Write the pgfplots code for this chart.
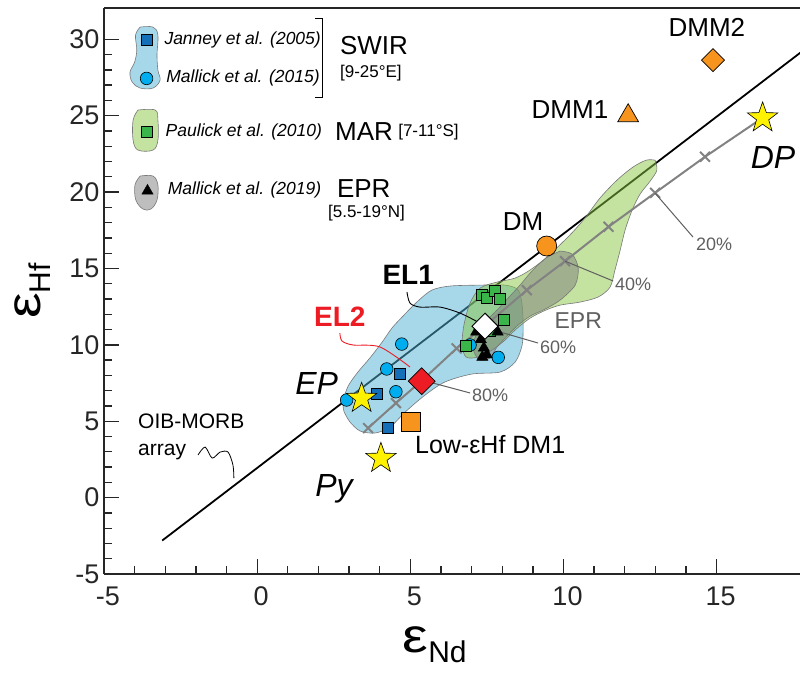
\documentclass[border=0pt]{standalone}
\usepackage{pgfplots}
\pgfplotsset{compat=1.18}
\usepackage{fontspec}
\setmainfont{Liberation Sans}
\newcommand\fs[1]{\fontsize{#1}{#1}\selectfont}
\definecolor{blueF}{RGB}{77,177,213}
\definecolor{greenF}{RGB}{137,197,65}
\definecolor{grayF}{RGB}{125,125,125}
\definecolor{edgeC}{RGB}{120,120,120}
\definecolor{jan}{RGB}{20,110,184}
\definecolor{mal}{RGB}{0,174,239}
\definecolor{pau}{RGB}{57,181,74}
\definecolor{orng}{RGB}{247,148,29}
\definecolor{ylw}{RGB}{255,242,0}
\definecolor{redd}{RGB}{237,28,36}
\definecolor{mixC}{RGB}{130,130,130}
\definecolor{txtG}{RGB}{95,95,95}
\pgfdeclareplotmark{fstar}{%
  \pgfpathmoveto{\pgfpointpolar{90}{\pgfplotmarksize}}%
  \pgfpathlineto{\pgfpointpolar{126}{0.40\pgfplotmarksize}}%
  \pgfpathlineto{\pgfpointpolar{162}{\pgfplotmarksize}}%
  \pgfpathlineto{\pgfpointpolar{198}{0.40\pgfplotmarksize}}%
  \pgfpathlineto{\pgfpointpolar{234}{\pgfplotmarksize}}%
  \pgfpathlineto{\pgfpointpolar{270}{0.40\pgfplotmarksize}}%
  \pgfpathlineto{\pgfpointpolar{306}{\pgfplotmarksize}}%
  \pgfpathlineto{\pgfpointpolar{342}{0.40\pgfplotmarksize}}%
  \pgfpathlineto{\pgfpointpolar{18}{\pgfplotmarksize}}%
  \pgfpathlineto{\pgfpointpolar{54}{0.40\pgfplotmarksize}}%
  \pgfpathclose
  \pgfusepathqfillstroke}
\begin{document}
\begin{tikzpicture}
\useasboundingbox (-104pt,-101pt) rectangle (696pt,574pt);
\begin{axis}[
  at={(0pt,0pt)}, anchor=south west,
  width=696pt, height=566pt, scale only axis,
  xmin=-5, xmax=17.72, ymin=-5, ymax=32.05,
  clip mode=individual,
  axis x line=box, axis y line=left,
  axis line style={-, line width=1.8pt, black!85},
  xtick pos=left, ytick pos=left,
  xtick={-5,0,5,10,15}, xticklabels={-5,0,5,10,15},
  ytick={-5,0,5,10,15,20,25,30}, yticklabels={-5,0,5,10,15,20,25,30},
  minor x tick num=4, minor y tick num=4,
  tick align=inside,
  major tick length=15pt, minor tick length=8pt,
  every tick/.style={black!85, line width=1.3pt},
  tick label style={font=\fs{27}, text=black!85},
  xticklabel style={yshift=-9pt, xshift=4pt},
  yticklabel style={xshift=-1pt},
]
% ---------- OIB-MORB array ----------
\addplot[black, line width=1.8pt] coordinates {(-3.1,-2.81)(17.8,29.23)};
% ---------- fields ----------
\addplot[draw=edgeC, line width=0.6pt, fill=blueF, fill opacity=0.5, smooth, tension=0.5] coordinates {
(2.84,5.60)(2.80,6.26)(2.97,7.30)(3.29,8.22)(3.68,9.14)(4.08,10.18)(4.40,11.10)(4.76,11.88)(5.25,12.87)(5.71,13.59)(6.30,13.85)(7.28,13.91)(8.09,13.91)(8.52,13.59)(8.65,12.60)(8.68,11.30)(8.65,9.99)(8.42,8.87)(7.93,8.22)(7.01,8.09)(6.13,7.57)(5.48,6.71)(4.83,5.60)(4.34,4.62)(3.85,4.23)(3.36,4.36)(3.03,4.95)(2.84,5.60)} -- cycle;
\addplot[draw=edgeC, line width=0.6pt, fill=greenF, fill opacity=0.5, smooth, tension=0.5] coordinates {
(12.99,22.09)(13.05,21.44)(12.83,20.72)(12.50,19.87)(12.24,18.82)(12.01,17.51)(11.85,16.20)(11.68,14.90)(11.52,13.78)(11.13,13.13)(10.54,12.80)(9.89,12.60)(9.43,12.28)(8.91,11.75)(8.42,10.97)(8.09,10.31)(7.67,9.66)(7.21,9.20)(6.82,9.20)(6.69,9.99)(6.75,11.30)(6.95,12.74)(7.28,13.72)(7.83,14.11)(8.42,14.37)(8.91,14.90)(9.46,15.75)(10.21,17.19)(10.70,18.30)(11.19,19.61)(11.75,20.79)(12.27,21.64)(12.70,22.09)(12.99,22.09)} -- cycle;
\addplot[draw=edgeC, line width=0.6pt, fill=grayF, fill opacity=0.5, smooth, tension=0.5] coordinates {
(9.89,16.14)(10.28,15.94)(10.48,15.03)(10.38,13.91)(9.89,12.93)(9.40,12.34)(8.91,11.88)(8.48,11.23)(8.16,10.58)(7.83,9.86)(7.60,9.14)(7.28,9.01)(7.08,9.53)(7.08,10.31)(7.34,11.30)(7.77,12.15)(8.19,13.06)(8.58,13.91)(8.97,14.83)(9.43,15.68)(9.89,16.14)} -- cycle;
% legend blobs
\addplot[draw=edgeC, line width=0.6pt, fill=blueF, fill opacity=0.5, smooth, tension=0.6] coordinates {
(-3.82,30.80)(-3.40,30.80)(-3.24,30.28)(-3.27,28.97)(-3.24,27.98)(-3.17,27.32)(-3.40,26.81)(-3.82,26.81)(-4.08,27.20)(-4.15,27.85)(-4.0,28.51)(-3.93,29.29)(-3.97,30.28)(-3.82,30.80)} -- cycle;
\addplot[draw=edgeC, line width=0.6pt, fill=greenF, fill opacity=0.5, smooth, tension=0.6] coordinates {
(-3.89,25.37)(-3.33,25.37)(-3.24,24.71)(-3.24,23.40)(-3.40,22.75)(-3.89,22.75)(-4.05,23.40)(-4.05,24.71)(-3.89,25.37)} -- cycle;
\addplot[draw=edgeC, line width=0.6pt, fill=grayF, fill opacity=0.5, smooth, tension=0.6] coordinates {
(-3.82,21.05)(-3.40,21.05)(-3.24,20.46)(-3.27,19.48)(-3.47,18.89)(-3.73,18.89)(-3.96,19.48)(-3.99,20.46)(-3.82,21.05)} -- cycle;
% ---------- mixing curve ----------
\addplot[mixC, line width=2pt] coordinates {(3.62,4.55)(4.53,6.19)(5.37,7.65)(6.51,9.77)(7.44,11.25)(8.8,13.58)(10.05,15.48)(11.47,17.73)(12.99,19.95)(14.62,22.31)(16.5,24.86)};
\addplot[mixC, only marks, mark=x, mark size=7pt, mark options={line width=2pt}] coordinates {(3.62,4.55)(4.53,6.19)(6.51,9.77)(8.8,13.58)(10.05,15.48)(11.47,17.73)(12.99,19.95)(14.62,22.31)};
% leader lines
\addplot[txtG, line width=1pt] coordinates {(12.99,19.93)(14.23,17.05)};
\addplot[txtG, line width=1pt] coordinates {(10.05,15.48)(11.62,14.18)};
\addplot[txtG, line width=1pt] coordinates {(7.93,10.84)(9.17,10.12)};
\addplot[txtG, line width=1pt] coordinates {(5.74,7.5)(6.95,6.85)};
% callouts
\addplot[black, line width=0.9pt, smooth] coordinates {(4.89,13.46)(4.99,12.73)(5.32,12.47)(5.97,12.47)(6.62,12.08)(7.21,11.49)};
\addplot[redd, line width=0.9pt, smooth] coordinates {(2.70,10.77)(2.77,10.25)(3.13,9.99)(4.01,9.86)(4.99,8.55)};
\addplot[black, line width=0.8pt, smooth] coordinates {(-1.93,2.79)(-1.70,3.31)(-1.47,2.59)(-1.21,2.98)(-0.95,2.98)(-0.79,2.13)(-0.76,1.28)};
% SWIR bracket
\addplot[black, line width=0.8pt] coordinates {(1.89,31.39)(2.12,31.39)(2.12,26.22)(1.89,26.22)};
% ---------- data ----------
% Janney et al. (2005)
\addplot[only marks, mark=square*, mark size=5.5pt, mark options={fill=jan, draw=black, line width=0.6pt}] coordinates {(4.64,8.09)(3.92,6.78)(4.26,4.6)(-3.61,29.95)};
% Mallick et al. (2015)
\addplot[only marks, mark=*, mark size=6.3pt, mark options={fill=mal, draw=black, line width=0.6pt}] coordinates {(4.72,10.05)(4.23,8.42)(4.53,6.93)(2.92,6.39)(6.95,9.99)(7.87,9.18)(-3.61,27.44)};
% Paulick et al. (2010)
\addplot[only marks, mark=square*, mark size=5.5pt, mark options={fill=pau, draw=black, line width=0.6pt}] coordinates {(7.6,10.9)(7.33,13.26)(7.49,13.11)(7.77,13.54)(7.93,13.04)(8.04,11.62)(6.82,9.92)(-3.61,23.95)};
% Mallick et al. (2019)
\addplot[only marks, mark=triangle*, mark size=6.5pt, mark options={fill=black, draw=black}] coordinates {(7.15,10.85)(7.85,10.85)(7.3,10.35)(7.4,9.8)(7.5,9.35)(7.35,9.2)(-3.58,20.08)};
% end-members
\addplot[only marks, mark=square*, mark size=8.1pt, mark options={rotate=45, fill=orng, draw=black, line width=0.7pt}] coordinates {(14.88,28.64)};
\addplot[only marks, mark=triangle*, mark size=12pt, mark options={fill=orng, draw=black, line width=0.7pt}] coordinates {(12.11,25.0)};
\addplot[only marks, mark=*, mark size=10pt, mark options={fill=orng, draw=black, line width=0.7pt}] coordinates {(9.45,16.47)};
\addplot[only marks, mark=square*, mark size=9.5pt, mark options={fill=orng, draw=black, line width=0.7pt}] coordinates {(5.02,4.97)};
\addplot[only marks, mark=square*, mark size=9.5pt, mark options={rotate=45, fill=redd, draw=black, line width=0.7pt}] coordinates {(5.37,7.62)};
\addplot[only marks, mark=square*, mark size=9.2pt, mark options={rotate=45, fill=white, draw=black, line width=0.9pt}] coordinates {(7.44,11.22)};
\addplot[only marks, mark=fstar, mark size=16pt, mark options={fill=ylw, draw=black, line width=0.6pt}] coordinates {(16.5,24.86)(3.41,6.5)(4.04,2.57)};
% ---------- text ----------
\node[anchor=west, font=\fs{17.5}\itshape] at (axis cs:-3.14,29.95) {Janney et al. (2005)};
\node[anchor=west, font=\fs{17.5}\itshape] at (axis cs:-3.08,27.46) {Mallick et al. (2015)};
\node[anchor=west, font=\fs{17.5}\itshape] at (axis cs:-3.10,23.93) {Paulick et al. (2010)};
\node[anchor=west, font=\fs{17.5}\itshape] at (axis cs:-3.03,20.13) {Mallick et al. (2019)};
\node[anchor=west, font=\fs{26}, inner sep=0pt] at (axis cs:2.70,29.62) {SWIR};
\node[anchor=west, font=\fs{17}, inner sep=0pt] at (axis cs:2.70,27.79) {[9-25°E]};
\node[anchor=west, font=\fs{26}, inner sep=0pt] at (axis cs:2.54,23.95) {MAR};
\node[anchor=west, font=\fs{17}, inner sep=0pt] at (axis cs:4.60,23.95) {[7-11°S]};
\node[anchor=west, font=\fs{26}, inner sep=0pt] at (axis cs:2.60,20.24) {EPR};
\node[anchor=west, font=\fs{17}, inner sep=0pt] at (axis cs:2.31,18.63) {[5.5-19°N]};
\node[font=\fs{26}] at (axis cs:14.68,30.76) {DMM2};
\node[font=\fs{26}] at (axis cs:10.21,25.37) {DMM1};
\node[font=\fs{26}] at (axis cs:8.68,18.04) {DM};
\node[font=\fs{32}\itshape] at (axis cs:16.84,22.29) {DP};
\node[font=\fs{32}\itshape] at (axis cs:1.94,7.48) {EP};
\node[font=\fs{32}\itshape] at (axis cs:2.51,0.6) {Py};
\node[font=\fs{28}\bfseries] at (axis cs:4.93,14.57) {EL1};
\node[font=\fs{28}\bfseries, text=redd] at (axis cs:2.70,11.84) {EL2};
\node[anchor=west, font=\fs{25}, inner sep=0pt] at (axis cs:5.15,3.44) {Low-εHf DM1};
\node[anchor=west, font=\fs{21}, inner sep=0pt] at (axis cs:-3.89,4.97) {OIB-MORB};
\node[anchor=west, font=\fs{21}, inner sep=0pt] at (axis cs:-3.89,3.0) {array};
\node[anchor=west, font=\fs{18}, text=txtG, inner sep=0pt] at (axis cs:14.32,16.6) {20\%};
\node[anchor=west, font=\fs{18}, text=txtG, inner sep=0pt] at (axis cs:11.68,13.98) {40\%};
\node[anchor=west, font=\fs{18}, text=txtG, inner sep=0pt] at (axis cs:9.23,9.86) {60\%};
\node[anchor=west, font=\fs{18}, text=txtG, inner sep=0pt] at (axis cs:7.01,6.71) {80\%};
\node[font=\fs{23}, text=txtG] at (axis cs:10.48,11.62) {EPR};
% axis labels
\node[font=\fs{48}, inner sep=0pt] at (axis description cs:0.475,-0.125) {\scalebox{1.2}[1]{ε}\raisebox{-10pt}{\fs{30}Nd}};
\node[font=\fs{48}, inner sep=0pt, rotate=90] at (axis description cs:-0.103,0.50) {\scalebox{1.2}[1]{ε}\raisebox{-10pt}{\fs{30}Hf}};
\end{axis}
\end{tikzpicture}
\end{document}
